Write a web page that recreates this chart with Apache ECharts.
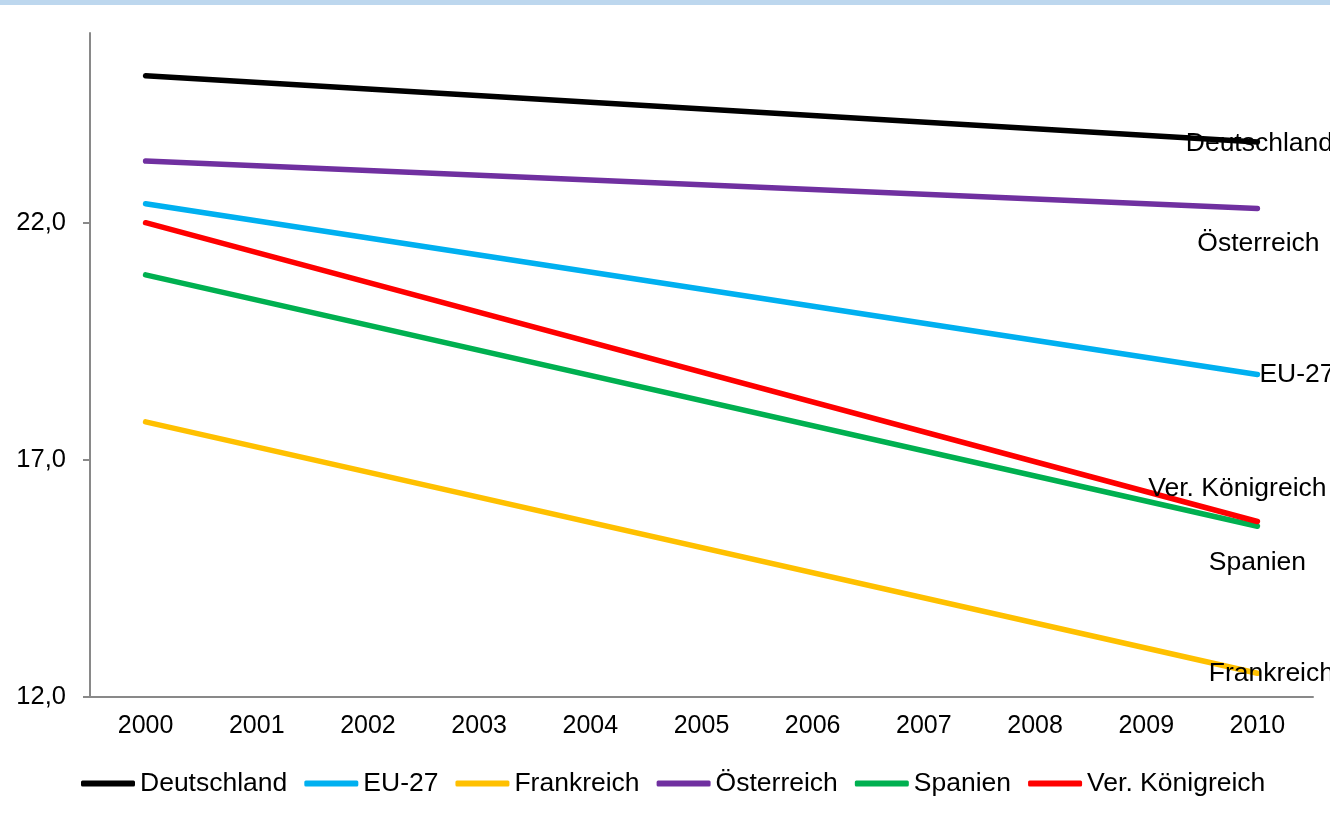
<!DOCTYPE html>
<html>
<head>
<meta charset="utf-8">
<script src="https://cdn.jsdelivr.net/npm/echarts@6/dist/echarts.min.js"></script>
<style>
  html, body { margin: 0; padding: 0; background: #fff; }
  #chart { width: 1330px; height: 817px; }
</style>
</head>
<body>
<div id="chart"></div>
<script>
// Daten (nur 2000 und 2010 belegt)
const years = ['2000', '2001', '2002', '2003', '2004', '2005', '2006', '2007', '2008', '2009', '2010'];
const seriesNames = ['Deutschland', 'EU-27', 'Frankreich', 'Österreich', 'Spanien', 'Ver. Königreich'];
const deutschland = [25.1, null, null, null, null, null, null, null, null, null, 23.7];
const eu27 = [22.4, null, null, null, null, null, null, null, null, null, 18.8];
const frankreich = [17.8, null, null, null, null, null, null, null, null, null, 12.5];
const oesterreich = [23.3, null, null, null, null, null, null, null, null, null, 22.3];
const spanien = [20.9, null, null, null, null, null, null, null, null, null, 15.6];
const koenigreich = [22.0, null, null, null, null, null, null, null, null, null, 15.7];

const values = [deutschland, eu27, frankreich, oesterreich, spanien, koenigreich];
const colors = ['#000000', '#00b0f0', '#ffc000', '#7030a0', '#00b050', '#ff0000'];
// Position der Endbeschriftung
const labelStyle = [
    { align: 'center', offset: [2, 2] },
    { align: 'left', offset: [2, 0] },
    { align: 'center', offset: [14, 0] },
    { align: 'center', offset: [1, 35] },
    { align: 'center', offset: [0, 36] },
    { align: 'center', offset: [-20, -33] }
];

const chart = echarts.init(document.getElementById('chart'));
const font = 'Liberation Sans, Arial, sans-serif';
const fs = 25;
const fsText = 26.5;

const series = seriesNames.map((name, i) => ({
    name: name,
    type: 'line',
    data: values[i],
    connectNulls: true,
    symbol: 'none',
    lineStyle: { color: colors[i], width: 5.5, cap: 'round' },
    itemStyle: { color: colors[i] },
    endLabel: {
        show: true,
        formatter: '{a}',
        distance: 0,
        align: labelStyle[i].align,
        verticalAlign: 'middle',
        offset: labelStyle[i].offset,
        color: '#000',
        fontSize: fsText,
        fontFamily: font
    },
    animation: false
}));

chart.setOption({
    animation: false,
    graphic: [{
        type: 'rect',
        left: 0,
        top: 0,
        shape: { width: 1330, height: 5 },
        style: { fill: '#bdd7ee' }
    }],
    grid: { left: 90, right: 17, top: 33, bottom: 120 },
    legend: {
        data: seriesNames,
        left: 76,
        top: 765,
        icon: 'roundRect',
        itemWidth: 54,
        itemHeight: 6,
        itemGap: 17,
        textStyle: { fontSize: fsText, fontFamily: font, color: '#000' }
    },
    xAxis: {
        type: 'category',
        data: years,
        boundaryGap: true,
        axisLine: { lineStyle: { color: '#898989', width: 2 } },
        axisTick: { length: 8, lineStyle: { color: '#898989', width: 2 } },
        axisLabel: { fontSize: fs, fontFamily: font, color: '#000', margin: 17 }
    },
    yAxis: {
        type: 'value',
        min: 12,
        max: 26,
        interval: 5,
        axisLine: { show: true, lineStyle: { color: '#898989', width: 2 } },
        axisTick: { show: true, length: 7, lineStyle: { color: '#898989', width: 2 } },
        splitLine: { show: false },
        axisLabel: {
            fontSize: 25.5,
            fontFamily: font,
            color: '#000',
            margin: 24,
            showMaxLabel: false,
            formatter: v => (v === 26 ? '' : v.toFixed(1).replace('.', ','))
        }
    },
    series: series
});
</script>
</body>
</html>
